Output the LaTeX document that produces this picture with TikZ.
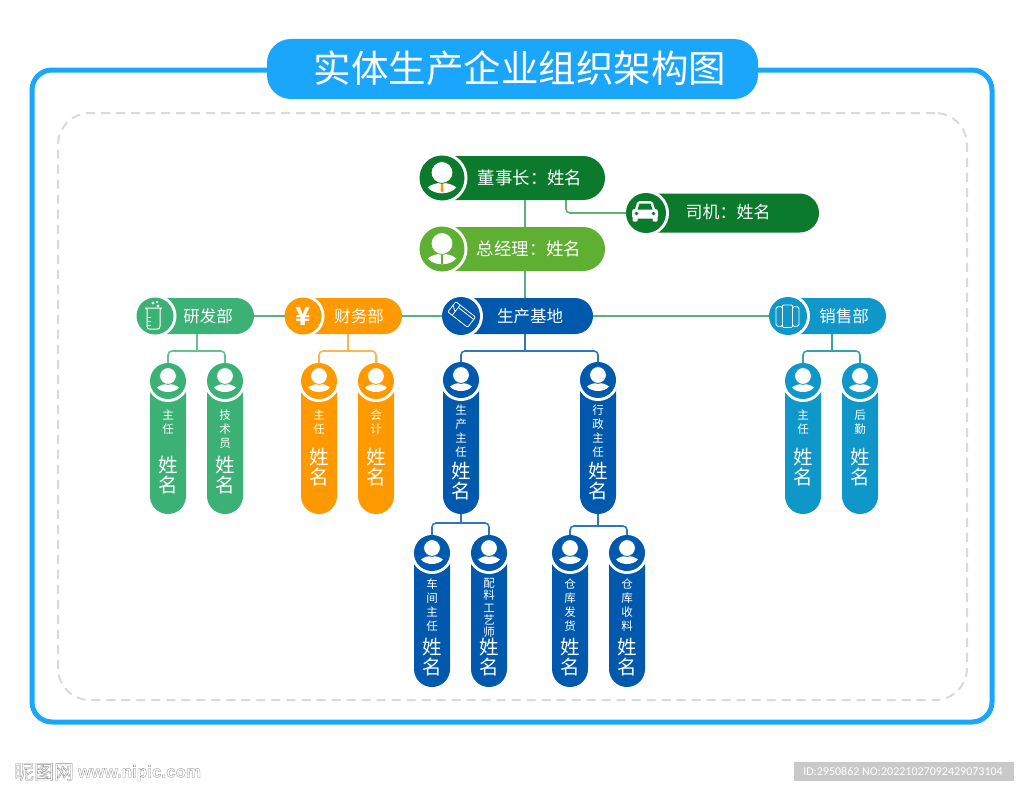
\documentclass[tikz,border=0pt]{standalone}
\usepackage{fontspec}
\setmainfont{Noto Sans CJK SC}
\newfontfamily\idfont{Carlito}
\newfontfamily\urlfont{Liberation Sans}
\definecolor{frameblue}{HTML}{1AA6FB}
\definecolor{dashgray}{HTML}{DADADA}
\definecolor{darkgreen}{HTML}{0B7A2C}
\definecolor{leafgreen}{HTML}{5FAF33}
\definecolor{rdgreen}{HTML}{3CB176}
\definecolor{finorange}{HTML}{FF9900}
\definecolor{prodblue}{HTML}{0059AC}
\definecolor{salesblue}{HTML}{0F97C9}
\definecolor{linegreen}{HTML}{5DB178}
\definecolor{linerd}{HTML}{62C295}
\definecolor{linefin}{HTML}{FFB44D}
\definecolor{lineprod}{HTML}{2F76BE}
\definecolor{linesales}{HTML}{35A2B0}
\tikzset{
  pillbox/.style={inner sep=0pt,outer sep=0pt,text=white},
  cap14/.style={pillbox,font=\fontsize{17.4}{19}\selectfont},
  capdrv/.style={pillbox,font=\fontsize{17}{19}\selectfont},
  dept/.style={pillbox,font=\fontsize{16.5}{18}\selectfont},
  smalltxt/.style={pillbox,align=center,font=\fontsize{11.5}{14}\selectfont},
  smalltight/.style={pillbox,align=center,font=\fontsize{11.5}{12.4}\selectfont},
  nametxt/.style={pillbox,align=center,font=\fontsize{19.5}{20.5}\selectfont},
  conn/.style={line width=1.6pt,rounded corners=4pt},
  iconline/.style={draw=white,line width=1pt,line join=round}
}
% name, cx, cy, r, right end, height, colour
\newcommand\hpill[7]{%
  \pgfmathsetmacro\pw{#5-(#2-#4)}%
  \pgfmathsetmacro\pc{(#5+#2-#4)/2}%
  \pgfmathsetmacro\pr{#6/2}%
  \node[pillbox,fill=#7,minimum width=\pw pt,minimum height=#6 pt,rounded corners=\pr pt] (#1) at (\pc,#3) {};
  \fill[white] (#2,#3) circle[radius=#4+3];
  \fill[#7] (#2,#3) circle[radius=#4];
}
% name, cx, cy, bottom, colour
\newcommand\vpill[5]{%
  \pgfmathsetmacro\pw{#4-#3+18}%
  \pgfmathsetmacro\pc{(#4+#3-18)/2}%
  \node[pillbox,fill=#5,minimum width=36pt,minimum height=\pw pt,rounded corners=18pt] (#1) at (#2,\pc) {};
  \fill[white] (#2,#3) circle[radius=21];
  \fill[#5] (#2,#3) circle[radius=18];
  \personicon{#2}{#3}{1}{#5}
}
% cx, cy, scale, colour
\newcommand\personicon[4]{%
  \begin{scope}[shift={(#1,#2)},scale=#3]
    \fill[white] (-11,6.5) .. controls (-8,4) and (-4,3) .. (0,3) .. controls (4,3) and (8,4) .. (11,6.5) .. controls (6,12.5) and (-6,12.5) .. (-11,6.5) -- cycle;
    \fill[white,draw=#4,line width=0.8pt] (0,-5) circle[radius=8.4];
  \end{scope}
}
\begin{document}
\begin{tikzpicture}[x=1pt,y=-1pt]
\useasboundingbox (0,0) rectangle (1024,792);
\fill[white] (0,0) rectangle (1024,792);
% frame
\node[pillbox,draw=frameblue,line width=5pt,minimum width=960pt,minimum height=652pt,rounded corners=20pt] (frame) at (512,396) {};
\node[pillbox,draw=dashgray,line width=2pt,dash pattern=on 9pt off 6pt,minimum width=909pt,minimum height=587pt,rounded corners=32pt] (inner) at (512.5,406.5) {};
\node[pillbox,fill=frameblue,minimum width=491pt,minimum height=60pt,rounded corners=24pt] (title) at (512.5,69) {};
\node[pillbox,font=\fontsize{37.5}{40}\selectfont] (titletext) at (520,68) {实体生产企业组织架构图};

% top pills
\hpill{chair}{442}{178}{22.5}{605}{44}{darkgreen}
\personicon{442}{179}{1.3}{darkgreen}
\fill[finorange] (441,184) -- (443,184) -- (443.4,191) -- (442,192.5) -- (440.6,191) -- cycle;
\node[cap14] (chairt) at (530,178) {董事长：姓名};
\hpill{driver}{646}{213}{20}{819}{39}{darkgreen}
\begin{scope}[shift={(645,213)}]
  \fill[white,rounded corners=2.5pt] (-13,-4) rectangle (13,5.5);
  \fill[white,rounded corners=2pt] (-10.5,-2) -- (-7.5,-12) -- (7.5,-12) -- (10.5,-2) -- cycle;
  \fill[darkgreen] (-7.5,-3.5) -- (-5.5,-9.5) -- (5.5,-9.5) -- (7.5,-3.5) -- cycle;
  \fill[white,rounded corners=1pt] (-12.5,4) rectangle (-7.5,8.5);
  \fill[white,rounded corners=1pt] (7.5,4) rectangle (12.5,8.5);
  \fill[darkgreen] (-8.5,0.5) circle[radius=1.9] (8.5,0.5) circle[radius=1.9];
\end{scope}
\node[capdrv] (drivert) at (728,212) {司机：姓名};
\hpill{gm}{442}{249}{22.5}{605}{44}{leafgreen}
\personicon{442}{250}{1.3}{leafgreen}
\fill[leafgreen] (441.3,255) rectangle (442.7,264);
\node[cap14] (gmt) at (529,249) {总经理：姓名};

% departments
\hpill{rd}{155}{316}{18.5}{254}{36}{rdgreen}
\begin{scope}[shift={(153.5,316)}]
  \draw[iconline,line cap=round] (-8,-8) -- (-6.5,-6.5) -- (-6.5,10) .. controls (-6.5,12) and (-5.5,13) .. (-4,13) -- (4,13) .. controls (5.5,13) and (6.5,12) .. (6.5,10) -- (6.5,-6.5) -- (8,-8) -- cycle;
  \draw[iconline] (-6.5,1) -- (-3,1) (-6.5,5) -- (-3,5) (-6.5,9) -- (-3,9);
  \fill[white] (-0.5,-13) circle[radius=1.6] (4.5,-10) circle[radius=1.6] (3.5,-14) circle[radius=1.1];
\end{scope}
\node[dept] (rdt) at (208,316) {研发部};
\hpill{fin}{303}{316}{18.5}{402}{36}{finorange}
\node[pillbox,font=\fontsize{25}{25}\selectfont\bfseries] (finicon) at (303,316) {¥};
\node[dept] (fint) at (359,316) {财务部};
\hpill{prod}{461}{316}{19}{593}{36}{prodblue}
\begin{scope}[shift={(461.7,314.5)},rotate=-38]
  \draw[iconline,line width=0.8pt,rounded corners=1pt] (-12.5,-6.5) rectangle (12.5,6.5);
  \draw[iconline,line width=0.8pt] (-7,-6.5) -- (-7,6.5) (-7,-3.5) -- (12.5,-3.5) (-12.5,-2) -- (-7,2);
\end{scope}
\node[dept] (prodt) at (530,316) {生产基地};
\hpill{sale}{788}{316}{19}{886}{36}{salesblue}
\begin{scope}[shift={(787.5,316)}]
  \draw[iconline,line width=0.8pt,rounded corners=1.5pt] (-11.5,-9) -- (-5,-9.5) -- (-5,10.5) -- (-11.5,10) -- cycle;
  \draw[iconline,line width=0.8pt,rounded corners=1pt] (-5,-11) -- (5,-11) -- (5,11.5) -- (-5,11.5) -- cycle;
  \draw[iconline,line width=0.8pt,rounded corners=1.5pt] (5,-9.5) -- (11.5,-9) -- (11.5,10) -- (5,10.5) -- cycle;
\end{scope}
\node[dept] (salet) at (844,316) {销售部};

% staff pills
\vpill{rda}{168}{381}{514}{rdgreen}
\node[smalltxt] (rdal) at (168,422) {主\\任};
\node[nametxt] (rdan) at (168,475) {姓\\名};
\vpill{rdb}{225}{381}{514}{rdgreen}
\node[smalltxt] (rdbl) at (225,429) {技\\术\\员};
\node[nametxt] (rdbn) at (225,475) {姓\\名};
\vpill{fina}{319}{381}{514}{finorange}
\node[smalltxt] (final) at (319,422) {主\\任};
\node[nametxt] (finan) at (319,467) {姓\\名};
\vpill{finb}{376}{381}{514}{finorange}
\node[smalltxt] (finbl) at (376,422) {会\\计};
\node[nametxt] (finbn) at (376,467) {姓\\名};
\vpill{salea}{803}{381}{514}{salesblue}
\node[smalltxt] (saleal) at (803,422) {主\\任};
\node[nametxt] (salean) at (803,467) {姓\\名};
\vpill{saleb}{860}{381}{514}{salesblue}
\node[smalltxt] (salebl) at (860,422) {后\\勤};
\node[nametxt] (salebn) at (860,467) {姓\\名};
\vpill{proda}{461}{380}{514}{prodblue}
\node[smalltxt] (prodal) at (461,431) {生\\产\\主\\任};
\node[nametxt] (prodan) at (461,481) {姓\\名};
\vpill{prodb}{598}{380}{514}{prodblue}
\node[smalltxt] (prodbl) at (598,431) {行\\政\\主\\任};
\node[nametxt] (prodbn) at (598,481) {姓\\名};
\vpill{wsa}{432}{553}{687}{prodblue}
\node[smalltxt] (wsal) at (432,605) {车\\间\\主\\任};
\node[nametxt] (wsan) at (432,657) {姓\\名};
\vpill{wsb}{489}{553}{687}{prodblue}
\node[smalltight] (wsbl) at (489,608) {配\\料\\工\\艺\\师};
\node[nametxt] (wsbn) at (489,657) {姓\\名};
\vpill{stoa}{570}{553}{687}{prodblue}
\node[smalltxt] (stoal) at (570,605) {仓\\库\\发\\货};
\node[nametxt] (stoan) at (570,657) {姓\\名};
\vpill{stob}{627}{553}{687}{prodblue}
\node[smalltxt] (stobl) at (627,605) {仓\\库\\收\\料};
\node[nametxt] (stobn) at (627,657) {姓\\名};

% junction points
\coordinate (trunk) at (525,316);
\coordinate (drvdrop) at (566,200);
\coordinate (rdj) at (197,351);
\coordinate (finj) at (348,351);
\coordinate (prodj) at (525,351);
\coordinate (salej) at (832,351);
\coordinate (wsj) at (461,523);
\coordinate (stoj) at (598,526);

% connectors
\draw[conn,linegreen] (trunk |- chair.south) -- (trunk |- gm.north);
\draw[conn,linegreen] (trunk |- gm.south) -- (trunk |- prod.north);
\draw[conn,linegreen] (drvdrop) |- (driver.west);
\draw[conn,linegreen] (rd.east) -- (fin.west);
\draw[conn,linegreen] (fin.east) -- (prod.west);
\draw[conn,linegreen] (prod.east) -- (sale.west);
\draw[conn,linerd] (rdj |- rd.south) -- (rdj);
\draw[conn,linerd] (rda.north) |- (rdj) -| (rdb.north);
\draw[conn,linefin] (finj |- fin.south) -- (finj);
\draw[conn,linefin] (fina.north) |- (finj) -| (finb.north);
\draw[conn,lineprod] (prodj |- prod.south) -- (prodj);
\draw[conn,lineprod] (proda.north) |- (prodj) -| (prodb.north);
\draw[conn,linesales] (salej |- sale.south) -- (salej);
\draw[conn,linesales] (salea.north) |- (salej) -| (saleb.north);
\draw[conn,lineprod] (proda.south) -- (wsj);
\draw[conn,lineprod] (wsa.north) |- (wsj) -| (wsb.north);
\draw[conn,lineprod] (prodb.south) -- (stoj);
\draw[conn,lineprod] (stoa.north) |- (stoj) -| (stob.north);

% watermark
\node[pillbox,anchor=west,text=black!45,font=\fontsize{20}{22}\selectfont] (wmcn) at (14,772) {\special{pdf:code 1 Tr 0.35 w}昵图网\special{pdf:code 0 Tr}};
\node[pillbox,anchor=west,text=black!45,font=\urlfont\bfseries\fontsize{17}{20}\selectfont] (wmurl) at (78,773) {\special{pdf:code 1 Tr 0.3 w}www.nipic.com\special{pdf:code 0 Tr}};
\node[pillbox,fill=black!21,minimum width=220pt,minimum height=19pt] (idbox) at (904,771.5) {};
\node[pillbox,font=\idfont\fontsize{12}{13}\selectfont] (idtext) at (903,771.5) {ID:2950862 NO:20221027092429073104};
\end{tikzpicture}
\end{document}
